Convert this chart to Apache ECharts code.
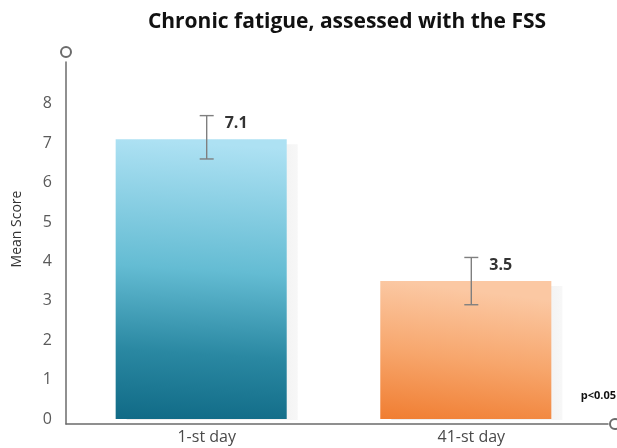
<!DOCTYPE html>
<html>
<head>
<meta charset="utf-8">
<script src="https://cdn.jsdelivr.net/npm/echarts@6/dist/echarts.min.js"></script>
<style>
html,body{margin:0;padding:0;background:#fff;}
#chart{width:617px;height:448px;}
</style>
</head>
<body>
<div id="chart"></div>
<script>
var title = 'Chronic fatigue, assessed with the FSS';
var categories = ['1-st day', '41-st day'];
var means = [7.1, 3.5];
var errLow = [6.6, 2.9];
var errHigh = [7.7, 4.1];
var yTicks = [0, 1, 2, 3, 4, 5, 6, 7, 8];
var note = 'p<0.05';

var gradients = [
  [['#ade1f3', 0], ['#64bcd3', 0.45], ['#2a88a2', 0.75], ['#106a86', 1]],
  [['#fbc8a3', 0], ['#f7a66c', 0.5], ['#f07d31', 1]]
];

var data = categories.map(function (c, i) {
  return [i + 1, means[i], errLow[i], errHigh[i]];
});

var chart = echarts.init(document.getElementById('chart'));
var FONT = '"Open Sans", sans-serif';

function renderItem(params, api) {
  var i = params.dataIndex;
  var x = api.value(0);
  var v = api.value(1);
  var lo = api.value(2);
  var hi = api.value(3);
  var center = api.coord([x, v]);
  var base = api.coord([x, 0]);
  var pLo = api.coord([x, lo]);
  var pHi = api.coord([x, hi]);
  var band = api.size([1, 0])[0];
  var unit = band * 0.688;
  var shadowOff = 11;
  var barW = unit - shadowOff;
  var left = center[0] - unit / 2;
  var g = gradients[i].map(function (s) { return { offset: s[1], color: s[0] }; });
  var cap = 7;
  var ec = '#7f7f7f';
  return {
    type: 'group',
    children: [
      {
        type: 'rect',
        shape: { x: left + shadowOff, y: center[1] + 5, width: barW, height: base[1] - center[1] - 4 },
        style: { fill: new echarts.graphic.LinearGradient(0, 0, 1, 0, [
          { offset: 0, color: '#ececec' }, { offset: 0.94, color: '#f4f4f4' }, { offset: 1, color: '#f7f7f7' }]) }
      },
      {
        type: 'rect',
        shape: { x: left, y: center[1], width: barW, height: base[1] - center[1] },
        style: { fill: new echarts.graphic.LinearGradient(0.1, 0, 0, 1, g) }
      },
      {
        type: 'line',
        shape: { x1: center[0], y1: pHi[1], x2: center[0], y2: pLo[1] },
        style: { stroke: ec, lineWidth: 1.4 }
      },
      {
        type: 'line',
        shape: { x1: center[0] - cap, y1: pHi[1], x2: center[0] + cap, y2: pHi[1] },
        style: { stroke: ec, lineWidth: 1.4 }
      },
      {
        type: 'line',
        shape: { x1: center[0] - cap, y1: pLo[1], x2: center[0] + cap, y2: pLo[1] },
        style: { stroke: ec, lineWidth: 1.4 }
      },
      {
        type: 'text',
        x: center[0] + 18,
        y: pHi[1] + 8,
        style: {
          text: String(v),
          fill: '#333333',
          font: 'bold 16px ' + FONT,
          textAlign: 'left',
          textVerticalAlign: 'middle'
        }
      }
    ]
  };
}

var option = {
  backgroundColor: '#ffffff',
  animation: false,
  title: {
    text: title,
    left: 342,
    textAlign: 'center',
    top: 7,
    textStyle: { fontFamily: FONT, fontWeight: 'bold', fontSize: 21, color: '#111111' }
  },
  grid: { left: 66, right: 9, top: 62, bottom: 24 },
  xAxis: {
    type: 'value',
    min: 0.4683,
    max: 2.5166,
    splitLine: { show: false },
    axisTick: { show: false },
    axisLine: {
      show: true,
      onZero: false,
      symbol: ['none', 'emptyCircle'],
      symbolSize: [10, 10],
      symbolOffset: [0, 7],
      lineStyle: { color: '#6b6b6b', width: 1.5 }
    },
    axisLabel: {
      customValues: [1, 2],
      formatter: function (v) { return categories[Math.round(v) - 1] || ''; },
      color: '#4a4a4a',
      fontFamily: FONT,
      fontSize: 16,
      margin: 5
    }
  },
  yAxis: {
    type: 'value',
    min: -0.127,
    max: 9.061,
    splitLine: { show: false },
    axisTick: { show: false },
    axisLine: {
      show: true,
      onZero: false,
      symbol: ['none', 'emptyCircle'],
      symbolSize: [10, 10],
      symbolOffset: [0, 10],
      lineStyle: { color: '#6b6b6b', width: 1.5 }
    },
    axisLabel: {
      customValues: yTicks,
      color: '#5a5a5a',
      fontFamily: FONT,
      fontSize: 16,
      margin: 14
    }
  },
  graphic: [
    {
      type: 'text',
      x: 17,
      y: 229,
      rotation: Math.PI / 2,
      style: {
        text: 'Mean Score',
        fill: '#333333',
        font: '14px ' + FONT,
        textAlign: 'center',
        textVerticalAlign: 'middle'
      }
    },
    {
      type: 'text',
      right: 1,
      top: 390,
      style: {
        text: note,
        fill: '#111111',
        font: 'bold 11px ' + FONT
      }
    }
  ],
  series: [{
    type: 'custom',
    renderItem: renderItem,
    encode: { x: 0, y: 1 },
    data: data,
    clip: false
  }]
};
chart.setOption(option);
</script>
</body>
</html>
